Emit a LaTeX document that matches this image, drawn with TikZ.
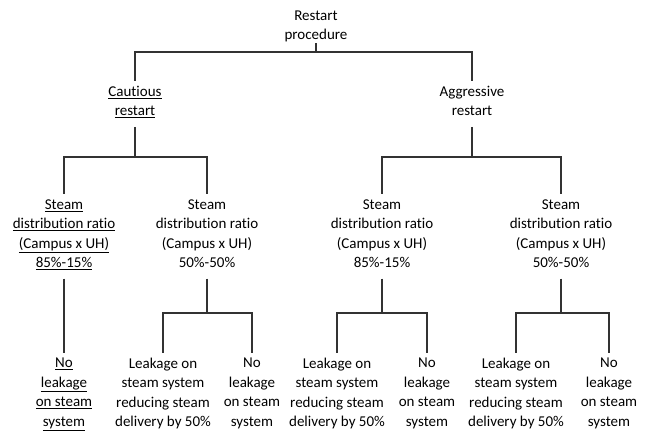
\documentclass[tikz,border=0pt]{standalone}
\usepackage{fontspec}
\setmainfont{Carlito}[Ligatures=NoCommon]
\usetikzlibrary{positioning}
\definecolor{tree_line}{RGB}{50,50,50}

\begin{document}
\begin{tikzpicture}[x=1pt, y=-1pt, font=\fontsize{15}{19.5}\selectfont,
      lbl/.style={align=center, inner sep=0pt, outer xsep=0pt, outer ysep=5pt,
        execute at begin node=\strut, execute at end node=\strut},
      link/.style={draw=tree_line, line width=1.5pt}]
    \useasboundingbox (0,0) rectangle (649,432);
    \node[lbl, outer ysep=-2pt] (root) at (316,28) {Restart\\procedure};
    \node[lbl] (caut) at (135,104) {\underline{Cautious}\\\underline{restart}};
    \node[lbl] (aggr) at (472,104) {Aggressive\\restart};
    \node[lbl] (cs1) at (64,236.5) {\underline{Steam}\\\underline{distribution ratio}\\\underline{(Campus x UH)}\\\underline{85\%-15\%}};
    \node[lbl] (cs2) at (207,236.5) {Steam\\distribution ratio\\(Campus x UH)\\50\%-50\%};
    \node[lbl] (as1) at (382,236.5) {Steam\\distribution ratio\\(Campus x UH)\\85\%-15\%};
    \node[lbl] (as2) at (561,236.5) {Steam\\distribution ratio\\(Campus x UH)\\50\%-50\%};
    \node[lbl] (cl1) at (64,395) {\underline{No}\\\underline{leakage}\\\underline{on steam}\\\underline{system}};
    \node[lbl] (cl2) at (163,395) {Leakage on\\steam system\\reducing steam\\delivery by 50\%};
    \node[lbl] (cl3) at (252,395) {No\\leakage\\on steam\\system};
    \node[lbl] (al1) at (337,395) {Leakage on\\steam system\\reducing steam\\delivery by 50\%};
    \node[lbl] (al2) at (427,395) {No\\leakage\\on steam\\system};
    \node[lbl] (al3) at (516,395) {Leakage on\\steam system\\reducing steam\\delivery by 50\%};
    \node[lbl] (al4) at (609,395) {No\\leakage\\on steam\\system};
    % junctions of the tree
    \coordinate (j0) at (316,52);
    \coordinate (jc) at (135,157);
    \coordinate (ja) at (472,157);
    \coordinate (jc2) at (207,313);
    \coordinate (ja1) at (382,313);
    \coordinate (ja2) at (561,313);
    \draw[link] (root) -- (j0) -| (caut);
    \draw[link] (j0) -| (aggr);
    \draw[link] (caut) -- (jc) -| (cs1);
    \draw[link] (jc) -| (cs2);
    \draw[link] (aggr) -- (ja) -| (as1);
    \draw[link] (ja) -| (as2);
    \draw[link] (cs1) -- (cl1);
    \draw[link] (cs2) -- (jc2) -| (cl2);
    \draw[link] (jc2) -| (cl3);
    \draw[link] (as1) -- (ja1) -| (al1);
    \draw[link] (ja1) -| (al2);
    \draw[link] (as2) -- (ja2) -| (al3);
    \draw[link] (ja2) -| (al4);
  \end{tikzpicture}
\end{document}
